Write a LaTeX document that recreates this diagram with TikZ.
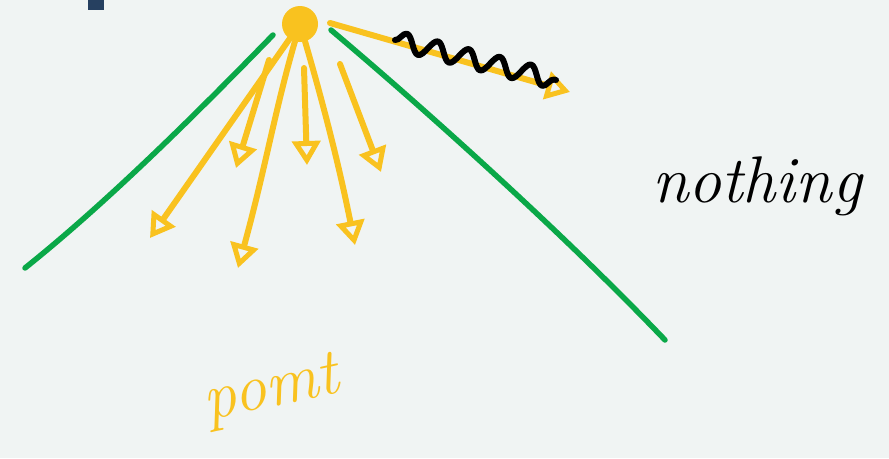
\documentclass[tikz,border=0pt]{standalone}
\usetikzlibrary{arrows.meta,decorations.pathmorphing}
\definecolor{bg}{RGB}{240,244,243}
\definecolor{rayc}{RGB}{249,194,31}
\definecolor{conec}{RGB}{10,168,72}
\definecolor{markc}{RGB}{38,64,96}

\begin{document}
\begin{tikzpicture}[x=1pt, y=1pt, line cap=round, line join=round,
	rayline/.style={draw=rayc, line width=6pt,
		-{Triangle[open, length=24pt, width=28pt, line width=5pt]}},
	coneline/.style={draw=conec, line width=5.5pt},
	handtext/.style={font=\fontsize{66}{66}\selectfont\itshape}]
	% фон
	\fill[bg] (0,0) rectangle (889,-458);
	\useasboundingbox (0,0) rectangle (889,-458);

	% тёмная метка сверху
	\fill[markc] (88,0) rectangle (104,-10);

	% источник
	\node[circle, fill=rayc, minimum size=36pt, inner sep=0pt] (src) at (300,-24) {};

	% края конуса
	\coordinate (lt) at (273,-35);
	\coordinate (lb) at (25,-268);
	\coordinate (rt) at (331,-30);
	\coordinate (rb) at (665,-340);
	\draw[coneline] (lt) .. controls (200,-110) and (110,-200) .. (lb);
	\draw[coneline] (rt) .. controls (420,-105) and (560,-230) .. (rb);

	% лучи
	\coordinate (e1) at (150,-238);
	\coordinate (e2) at (238,-268);
	\coordinate (e3) at (355,-245);
	\draw[rayline] (src) -- (e1);
	\draw[rayline] (src) .. controls (275,-110) and (265,-170) .. (e2);
	\draw[rayline] (src) .. controls (325,-110) and (340,-170) .. (e3);

	% короткие стрелки
	\coordinate (s1) at (269,-60);
	\coordinate (f1) at (236,-168);
	\coordinate (s2) at (304,-68);
	\coordinate (f2) at (307,-165);
	\coordinate (s3) at (340,-64);
	\coordinate (f3) at (381,-172);
	\draw[rayline] (s1) -- (f1);
	\draw[rayline] (s2) -- (f2);
	\draw[rayline] (s3) -- (f3);

	% волна
	\coordinate (w0) at (330,-23);
	\coordinate (w1) at (570,-92);
	\draw[rayline] (w0) -- (w1);
	\draw[black, line width=6pt,
		decorate, decoration={snake, amplitude=9pt, segment length=32pt}]
		(395,-40) -- (556,-80);

	% подписи
	\node[handtext, text=black] (nothing) at (757,-186) {nothing};
	\node[handtext, text=rayc, rotate=12] (point) at (272,-392) {pomt};
\end{tikzpicture}
\end{document}
